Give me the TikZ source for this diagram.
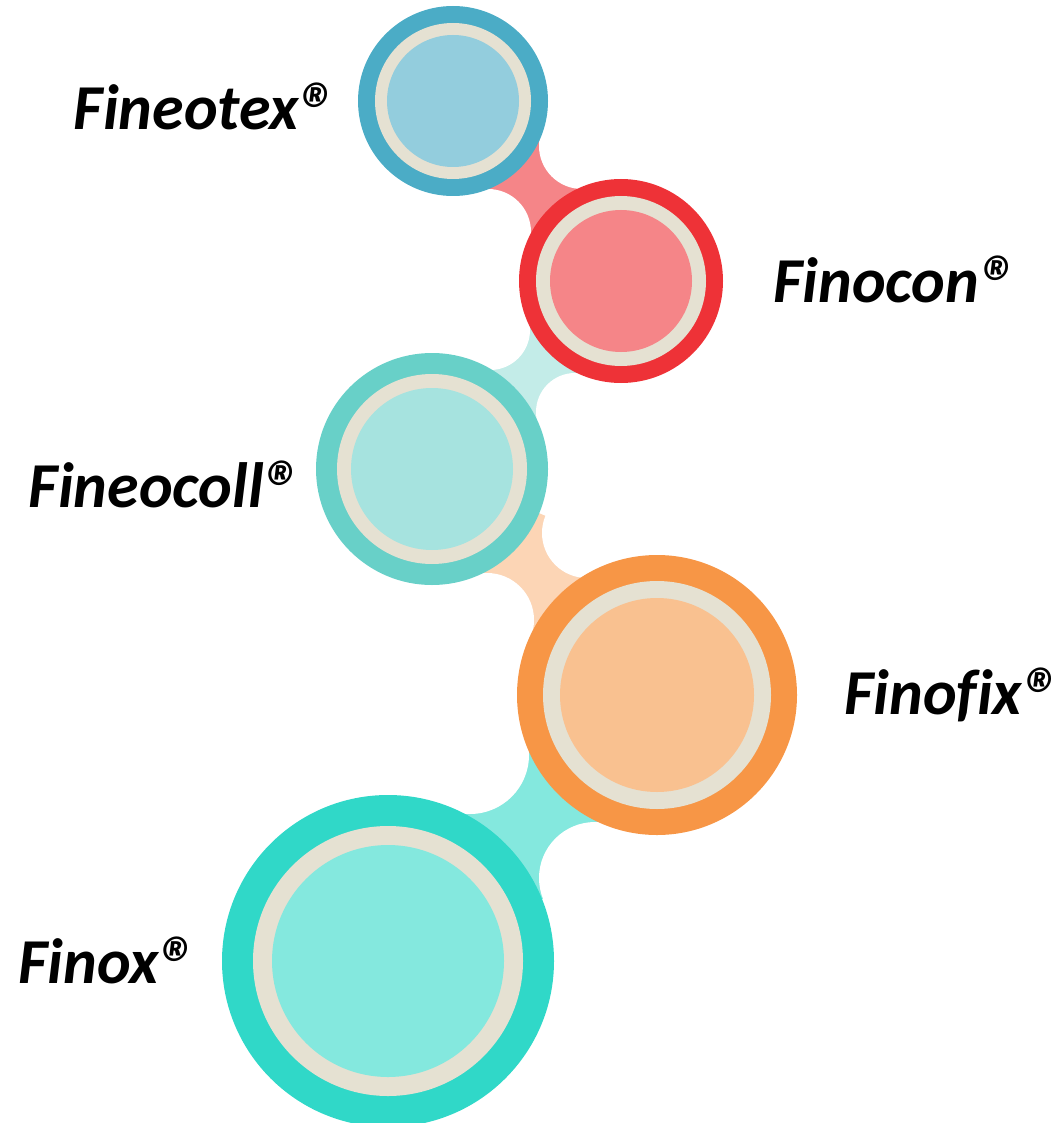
\documentclass[tikz,border=0pt]{standalone}
\usepackage{graphicx}
\usepackage{fontspec}
\setmainfont{Carlito}[Ligatures=NoCommon]
\usetikzlibrary{positioning}

\definecolor{texring}{HTML}{4BACC6}
\definecolor{texfill}{HTML}{93CDDD}
\definecolor{conring}{HTML}{EE3237}
\definecolor{confill}{HTML}{F58588}
\definecolor{collring}{HTML}{68D0C8}
\definecolor{collfill}{HTML}{A6E3DF}
\definecolor{collink}{HTML}{C3ECE8}
\definecolor{fixring}{HTML}{F79646}
\definecolor{fixfill}{HTML}{F9C190}
\definecolor{fixlink}{HTML}{FCD5B5}
\definecolor{oxring}{HTML}{30D8C8}
\definecolor{oxfill}{HTML}{84E8DE}
\definecolor{beige}{HTML}{E5E1D2}

\newcommand\regmark{\raisebox{-7pt}{\scalebox{1.2}{®}}}

\tikzset{
  brand/.style={inner sep=0pt,font=\fontsize{64}{70}\selectfont\bfseries\itshape},
  bubble/.style={circle,inner sep=0pt,minimum size=#1}
}

\begin{document}
\begin{tikzpicture}[x=1pt,y=-1pt]
  \useasboundingbox (0,0) rectangle (1062,1123);

  % bubbles
  \node[bubble=190pt] (tex)  at (453,101) {};
  \node[bubble=204pt] (con)  at (621,281) {};
  \node[bubble=232pt] (coll) at (432,469) {};
  \node[bubble=280pt] (fix)  at (657,695) {};
  \node[bubble=332pt] (ox)   at (388,961) {};

  % notches of the links
  \coordinate (n1a) at (582,146); \coordinate (n1b) at (488,232);
  \coordinate (n2a) at (490,330); \coordinate (n2b) at (575,412);
  \coordinate (n3a) at (587,533); \coordinate (n3b) at (487,620);
  \coordinate (n4a) at (470,755); \coordinate (n4b) at (595,878);

  % links between the bubbles
  \fill[confill] (tex.center) -- (n1a) -- (con.center) -- (n1b) -- cycle;
  \fill[white]   (n1a) circle (43) (n1b) circle (43);
  \fill[collink] (con.center) -- (n2a) -- (coll.center) -- (n2b) -- cycle;
  \fill[white]   (n2a) circle (40) (n2b) circle (39);
  \fill[fixlink] (coll.center) -- (n3a) -- (fix.center) -- (n3b) -- cycle;
  \fill[white]   (n3a) circle (45) (n3b) circle (47);
  \fill[oxfill]  (fix.center) -- (n4a) -- (ox.center) -- (n4b) -- cycle;
  \fill[white]   (n4a) circle (59) (n4b) circle (56);

  % rings
  \fill[texring] (tex) circle (95);
  \fill[beige]   (tex) circle (78);
  \fill[texfill] (tex) circle (66);

  \fill[conring] (con) circle (102);
  \fill[beige]   (con) circle (85);
  \fill[confill] (con) circle (71);

  \fill[collring] (coll) circle (116);
  \fill[beige]    (coll) circle (95);
  \fill[collfill] (coll) circle (81);

  \fill[fixring] (fix) circle (140);
  \fill[beige]   (fix) circle (114);
  \fill[fixfill] (fix) circle (97);

  \fill[oxring] (ox) circle (166);
  \fill[beige]  (ox) circle (135);
  \fill[oxfill] (ox) circle (116);

  % names
  \node[brand,anchor=base east] (ltex)  at (338,130) {Fineotex\regmark};
  \node[brand,anchor=base west] (lcon)  at (773,302) {Finocon\regmark};
  \node[brand,anchor=base east] (lcoll) at (303,507) {Fineocoll\regmark};
  \node[brand,anchor=base west] (lfix)  at (844,714) {Finofix\regmark};
  \node[brand,anchor=base east] (lox)   at (198,983) {Finox\regmark};
\end{tikzpicture}
\end{document}
